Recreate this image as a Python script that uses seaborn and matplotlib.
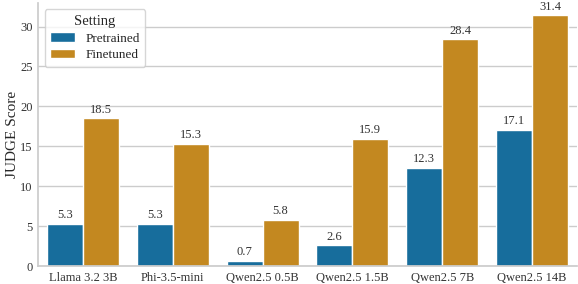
import matplotlib
matplotlib.use("Agg")
import matplotlib.pyplot as plt
import seaborn as sns
import pandas as pd

models = ["Llama 3.2 3B", "Phi-3.5-mini", "Qwen2.5 0.5B", "Qwen2.5 1.5B", "Qwen2.5 7B", "Qwen2.5 14B"]
pretrained = [5.3, 5.3, 0.7, 2.6, 12.3, 17.1]
finetuned = [18.5, 15.3, 5.8, 15.9, 28.4, 31.4]
settings = ["Pretrained", "Finetuned"]

df = pd.DataFrame({
    "Model": models * 2,
    "Score": pretrained + finetuned,
    "Setting": [settings[0]] * len(models) + [settings[1]] * len(models),
})

sns.set_theme(style="whitegrid", palette="colorblind")
plt.rcParams["font.family"] = ["Liberation Serif", "DejaVu Serif"]

fig, ax = plt.subplots(figsize=(5.78, 2.84), dpi=100)
sns.barplot(data=df, x="Model", y="Score", hue="Setting", ax=ax, edgecolor="white", linewidth=1)
for c in ax.containers:
    ax.bar_label(c, fmt="%.1f", padding=2, fontsize=9, color="#333333")
ax.set_xlabel("")
ax.set_ylabel("JUDGE Score", fontsize=11, labelpad=1)
ax.tick_params(axis="both", length=0, labelsize=9, pad=4, colors="#333333")
ax.grid(axis="x", visible=False)
sns.despine(ax=ax)
leg = ax.legend(title="Setting", loc="upper left", fontsize=9.5, title_fontsize=10.5,
                frameon=True, handlelength=1.9, borderpad=0.4, labelspacing=0.35,
                handletextpad=0.8)
fig.subplots_adjust(left=0.066, right=0.998, top=0.99, bottom=0.063)
fig.savefig("out.png", dpi=100)
